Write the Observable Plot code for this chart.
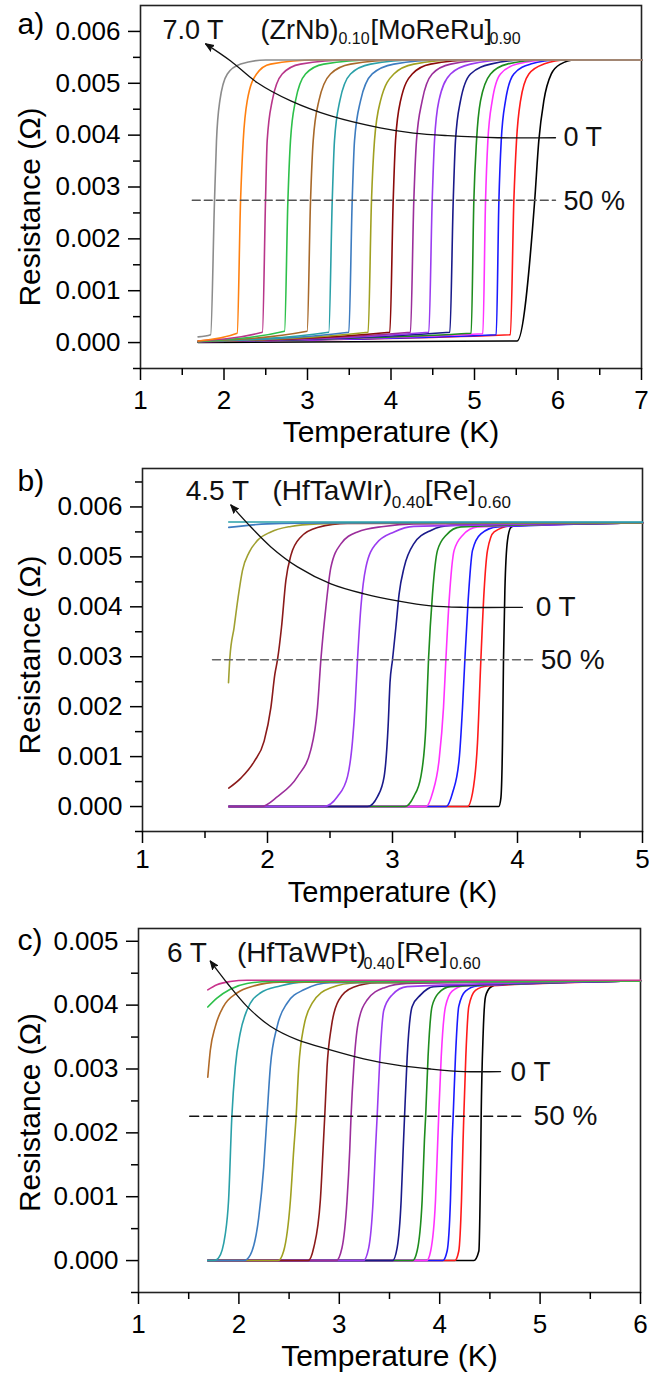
<!DOCTYPE html>
<html><head><meta charset="utf-8">
<script src="https://cdn.jsdelivr.net/npm/d3@7"></script>
<script src="https://cdn.jsdelivr.net/npm/@observablehq/plot@0.6"></script>
<style>
body{margin:0;background:#fff;width:649px;overflow:hidden;}
#chart svg{display:block;}
</style></head><body><div id="chart"></div>
<script>
// ---------- Panel a: (ZrNb)0.10[MoReRu]0.90, curves ordered 0 T -> 7.0 T ----------
const aColors = ["#000000","#FF1A1A","#1A1AFF","#FF33FF","#1E8C1E","#1A1A8A","#9A3CF0","#9B2E9B","#8B0A0A","#A0A020","#3D7CC0","#2AA0A8","#A8692A","#2DC04A","#B8368A","#FF8010","#8C8C8C"];
const aCurves = [
  [[1.69,0],[5.51,0.00003],[5.72,0.00272],[5.77,0.00389],[5.83,0.00466],[5.92,0.00518],[6.03,0.00537],[6.2,0.00545],[7.0,0.00545]],
  [[1.69,0.00002],[5.43,0.00015],[5.471,0.00272],[5.503,0.00389],[5.551,0.00466],[5.651,0.00518],[5.83,0.00537],[6.1,0.00545],[7.0,0.00545]],
  [[1.69,0.00002],[5.26,0.00015],[5.292,0.00272],[5.32,0.00389],[5.371,0.00466],[5.471,0.00518],[5.671,0.00537],[6.0,0.00545],[7.0,0.00545]],
  [[1.69,0.00002],[5.10,0.00017],[5.132,0.00272],[5.16,0.00389],[5.212,0.00466],[5.311,0.00518],[5.511,0.00537],[5.9,0.00545],[7.0,0.00545]],
  [[1.69,0.00002],[4.96,0.00018],[4.992,0.00272],[5.024,0.00389],[5.072,0.00466],[5.192,0.00518],[5.391,0.00537],[5.8,0.00545],[7.0,0.00545]],
  [[1.69,0.00002],[4.705,0.0002],[4.745,0.00272],[4.772,0.00389],[4.832,0.00466],[4.952,0.00518],[5.192,0.00537],[5.6,0.00545],[7.0,0.00545]],
  [[1.69,0.00002],[4.453,0.0002],[4.493,0.00272],[4.521,0.00389],[4.573,0.00466],[4.713,0.00518],[4.952,0.00537],[5.4,0.00545],[7.0,0.00545]],
  [[1.69,0.00002],[4.233,0.0002],[4.273,0.00272],[4.305,0.00389],[4.373,0.00466],[4.493,0.00518],[4.713,0.00537],[5.2,0.00545],[7.0,0.00545]],
  [[1.69,0.00002],[3.986,0.0002],[4.026,0.00272],[4.054,0.00389],[4.114,0.00466],[4.254,0.00518],[4.473,0.00537],[5.0,0.00545],[7.0,0.00545]],
  [[1.69,0.00002],[3.726,0.0002],[3.766,0.00272],[3.802,0.00389],[3.874,0.00466],[4.034,0.00518],[4.273,0.00537],[4.8,0.00545],[7.0,0.00545]],
  [[1.69,0.00002],[3.495,0.0002],[3.535,0.00272],[3.563,0.00389],[3.635,0.00466],[3.775,0.00518],[4.034,0.00537],[4.6,0.00545],[7.0,0.00545]],
  [[1.69,0.00002],[3.255,0.0002],[3.296,0.00272],[3.323,0.00389],[3.387,0.00466],[3.515,0.00518],[3.755,0.00537],[4.3,0.00545],[7.0,0.00545]],
  [[1.69,0.00002],[2.996,0.00022],[3.036,0.00272],[3.068,0.00389],[3.136,0.00466],[3.275,0.00518],[3.515,0.00537],[4.1,0.00545],[7.0,0.00545]],
  [[1.69,0.00002],[2.725,0.00022],[2.765,0.00272],[2.796,0.00389],[2.856,0.00466],[2.976,0.00518],[3.195,0.00537],[3.8,0.00545],[7.0,0.00545]],
  [[1.69,0.00003],[2.46,0.0002],[2.497,0.00272],[2.517,0.00389],[2.577,0.00466],[2.697,0.00518],[2.916,0.00537],[3.5,0.00545],[7.0,0.00545]],
  [[1.69,0.00003],[2.158,0.00018],[2.198,0.00272],[2.23,0.00389],[2.278,0.00466],[2.39,0.00518],[2.557,0.00537],[3.1,0.00545],[7.0,0.00545]],
  [[1.69,0.00011],[1.84,0.00015],[1.886,0.00272],[1.91,0.00389],[1.95,0.00466],[2.04,0.00518],[2.20,0.00537],[2.5,0.00545],[7.0,0.00545]]
];
const aArrowT = [5.97,5.28,4.68,4.27,3.87,3.28,2.80,2.40,2.08,1.78];
const aArrowR = [0.00395,0.00395,0.00399,0.00404,0.00414,0.00437,0.00466,0.00501,0.00543,0.00576];
const aDashT = [1.62,5.97];
const aDashR = [0.002745,0.002745];
const aLabelText = ["7.0 T","(ZrNb)","[MoReRu]","0 T","50 %"];
const aLabelT = [1.263,2.437,3.754,6.066,6.066];
const aLabelR = [0.00603,0.00603,0.00603,0.00395,0.00273];
const aSubText = ["0.10","0.90"];
const aSubT = [3.37,5.18];
const aSubR = [0.00586,0.00586];
const aXTicks = [1,2,3,4,5,6,7];
const aXMinor = [1.5,2.5,3.5,4.5,5.5,6.5];
const aYTicks = [0,0.001,0.002,0.003,0.004,0.005,0.006];
const aYMinor = [-0.0005,0.0005,0.0015,0.0025,0.0035,0.0045,0.0055];

// ---------- Panel b: (HfTaWIr)0.40[Re]0.60, curves ordered 0 T -> 4.5 T ----------
const bColors = ["#000000","#FF1A1A","#1A1AFF","#FF33FF","#1E8C1E","#1A1A8A","#9A3CF0","#9B2E9B","#8B1A1A","#A0A030","#3D7CC0","#2AA0A8"];
const bCurves = [
  [[1.69,0],[3.85,0],[3.867,0.00017],[3.88,0.00128],[3.888,0.00294],[3.899,0.00433],[3.92,0.00533],[3.947,0.00559],[4.0,0.00565],[5.0,0.00568]],
  [[1.69,0],[3.60,0],[3.64,0.00027],[3.68,0.00128],[3.707,0.00294],[3.733,0.00433],[3.76,0.00513],[3.813,0.0055],[3.947,0.00562],[5.0,0.00568]],
  [[1.69,0],[3.43,0],[3.48,0.00027],[3.533,0.00094],[3.56,0.00198],[3.579,0.00294],[3.605,0.00412],[3.64,0.00513],[3.707,0.00546],[3.84,0.0056],[5.0,0.00568]],
  [[1.69,0],[3.27,0],[3.32,0.00027],[3.373,0.00094],[3.408,0.00198],[3.427,0.00294],[3.453,0.00412],[3.493,0.00513],[3.56,0.00543],[3.68,0.0056],[5.0,0.00568]],
  [[1.69,0],[3.10,0],[3.17,0.0002],[3.227,0.0006],[3.267,0.00161],[3.288,0.00294],[3.32,0.00426],[3.36,0.00513],[3.427,0.00543],[3.547,0.0056],[5.0,0.00568]],
  [[1.69,0],[2.80,0],[2.88,0.0002],[2.933,0.0006],[2.965,0.00161],[2.98,0.00248],[3.0,0.00294],[3.027,0.00359],[3.053,0.00426],[3.093,0.00479],[3.17,0.00526],[3.307,0.00553],[3.467,0.00563],[5.0,0.00568]],
  [[1.69,0],[2.45,0],[2.56,0.0002],[2.64,0.0006],[2.68,0.00131],[2.70,0.00198],[2.72,0.00294],[2.747,0.00399],[2.787,0.00479],[2.867,0.00526],[3.013,0.0055],[3.17,0.00561],[5.0,0.00568]],
  [[1.69,0],[1.95,0],[2.08,0.0002],[2.24,0.0006],[2.347,0.00114],[2.40,0.00198],[2.427,0.00294],[2.467,0.00399],[2.507,0.00479],[2.587,0.00526],[2.72,0.0055],[2.93,0.00561],[3.17,0.00566],[5.0,0.00568]],
  [[1.69,0.00037],[1.787,0.00057],[1.893,0.0009],[1.973,0.00131],[2.027,0.00198],[2.059,0.00265],[2.08,0.00294],[2.112,0.00359],[2.147,0.00453],[2.187,0.00503],[2.267,0.0054],[2.40,0.00559],[2.64,0.00567],[5.0,0.00568]],
  [[1.688,0.00248],[1.699,0.00298],[1.733,0.00359],[1.765,0.00419],[1.80,0.00473],[1.853,0.00509],[1.92,0.00533],[2.027,0.0055],[2.187,0.00561],[2.40,0.00566],[2.77,0.00568],[5.0,0.00568]],
  [[1.69,0.00559],[2.0,0.00566],[2.5,0.00568],[5.0,0.00569]],
  [[1.69,0.0057],[5.0,0.0057]]
];
const bArrowT = [4.04,3.573,3.307,3.04,2.773,2.507,2.24,2.027,1.84,1.707];
const bArrowR = [0.00399,0.00399,0.00402,0.00412,0.00426,0.00446,0.0048,0.0052,0.00567,0.00604];
const bDashT = [1.56,4.15];
const bDashR = [0.00294,0.00294];
const bLabelText = ["4.5 T","(HfTaWIr)","[Re]","0 T","50 %"];
const bLabelT = [1.346,2.04,3.258,4.146,4.186];
const bLabelR = [0.00632,0.00632,0.00632,0.00399,0.00294];
const bSubText = ["0.40","0.60"];
const bSubT = [2.994,3.682];
const bSubR = [0.00609,0.00609];
const bXTicks = [1,2,3,4,5];
const bXMinor = [1.5,2.5,3.5,4.5];
const bYTicks = [0,0.001,0.002,0.003,0.004,0.005,0.006];
const bYMinor = [-0.0005,0.0005,0.0015,0.0025,0.0035,0.0045,0.0055,0.0065];

// ---------- Panel c: (HfTaWPt)0.40[Re]0.60, curves ordered 0 T -> 6 T ----------
const cColors = ["#000000","#FF1A1A","#1A1AFF","#FF33FF","#1E8C1E","#1A1A8A","#9A3CF0","#9B2E9B","#8B1A1A","#A0A020","#3D7CC0","#2AA0A8","#B06A28","#2DC04A","#C8338C"];
const cCurves = [
  [[1.69,0],[4.34,0],[4.39,0.00015],[4.407,0.00146],[4.413,0.00226],[4.433,0.00356],[4.457,0.00414],[4.506,0.00428],[4.606,0.00434],[6.0,0.00438]],
  [[1.69,0],[4.15,0],[4.19,0.00015],[4.217,0.00094],[4.233,0.00189],[4.24,0.00226],[4.26,0.00319],[4.29,0.00398],[4.356,0.00423],[4.473,0.0043],[6.0,0.00438]],
  [[1.69,0],[4.03,0],[4.074,0.00015],[4.107,0.00094],[4.124,0.00189],[4.134,0.00226],[4.157,0.00319],[4.19,0.00398],[4.257,0.00422],[4.373,0.0043],[6.0,0.00438]],
  [[1.69,0],[3.87,0],[3.91,0.00015],[3.958,0.00094],[3.981,0.00189],[3.99,0.00226],[4.015,0.00319],[4.058,0.00398],[4.124,0.00422],[4.24,0.0043],[6.0,0.00438]],
  [[1.69,0],[3.73,0],[3.775,0.00015],[3.825,0.00094],[3.848,0.00189],[3.86,0.00226],[3.884,0.00319],[3.924,0.00398],[3.99,0.00419],[4.107,0.00429],[6.0,0.00438]],
  [[1.69,0],[3.53,0],[3.576,0.0002],[3.616,0.00094],[3.636,0.00173],[3.65,0.00226],[3.676,0.00319],[3.726,0.00398],[3.81,0.00416],[3.94,0.00429],[6.0,0.00438]],
  [[1.69,0],[3.24,0],[3.293,0.0002],[3.337,0.00094],[3.36,0.00173],[3.377,0.00226],[3.403,0.00314],[3.443,0.00392],[3.526,0.00416],[3.676,0.00429],[6.0,0.00438]],
  [[1.69,0],[2.97,0],[3.027,0.0002],[3.077,0.00094],[3.104,0.00173],[3.117,0.00226],[3.144,0.00303],[3.187,0.00371],[3.277,0.00408],[3.443,0.00427],[3.676,0.00434],[6.0,0.00438]],
  [[1.69,0],[2.69,0],[2.745,0.0002],[2.811,0.00094],[2.838,0.00173],[2.855,0.00226],[2.878,0.00303],[2.921,0.00366],[2.995,0.00408],[3.14,0.00428],[3.38,0.00435],[6.0,0.00438]],
  [[1.69,0],[2.39,0],[2.446,0.00015],[2.513,0.00094],[2.546,0.00173],[2.57,0.00226],[2.596,0.00303],[2.646,0.00366],[2.73,0.00403],[2.91,0.00427],[3.18,0.00435],[6.0,0.00438]],
  [[1.69,0],[2.05,0],[2.114,0.00009],[2.197,0.00067],[2.247,0.00146],[2.28,0.00226],[2.313,0.00303],[2.38,0.00366],[2.48,0.00403],[2.646,0.00424],[2.91,0.00435],[6.0,0.00438]],
  [[1.69,0],[1.75,0],[1.797,0.00004],[1.864,0.00041],[1.897,0.00094],[1.93,0.00226],[1.964,0.00303],[2.013,0.00356],[2.08,0.00392],[2.213,0.00419],[2.41,0.0043],[2.65,0.00436],[6.0,0.00438]],
  [[1.69,0.00287],[1.715,0.00329],[1.764,0.00366],[1.847,0.00398],[1.98,0.00419],[2.146,0.0043],[2.41,0.00436],[6.0,0.00438]],
  [[1.69,0.00397],[1.781,0.00411],[1.914,0.00425],[2.08,0.00434],[2.31,0.00437],[6.0,0.00438]],
  [[1.69,0.00424],[1.781,0.00432],[1.914,0.00437],[2.08,0.00439],[6.0,0.00439]]
];
const cArrowT = [4.606,4.24,3.908,3.576,3.243,2.91,2.579,2.313,2.08,1.881,1.715];
const cArrowR = [0.00296,0.00296,0.003,0.00306,0.00316,0.0033,0.00346,0.00367,0.00398,0.00435,0.00469];
const cDashT = [1.51,4.855];
const cDashR = [0.00226,0.00226];
const cLabelText = ["6 T","(HfTaWPt)","[Re]","0 T","50 %"];
const cLabelT = [1.283,1.981,3.569,4.706,4.935];
const cLabelR = [0.00481,0.00481,0.00481,0.00296,0.00226];
const cSubText = ["0.40","0.60"];
const cSubT = [3.24,4.097];
const cSubR = [0.00465,0.00465];
const cXTicks = [1,2,3,4,5,6];
const cXMinor = [1.5,2.5,3.5,4.5,5.5];
const cYTicks = [0,0.001,0.002,0.003,0.004,0.005];
const cYMinor = [-0.0005,0.0005,0.0015,0.0025,0.0035,0.0045];

const xTitle = "Temperature (K)";
const yTitle = "Resistance (Ω)";

// filled arrowhead marker (falls back to Plot's built-in "arrow")
function filledArrow(color) {
  const ns = "http://www.w3.org/2000/svg";
  const m = document.createElementNS(ns, "marker");
  m.setAttribute("viewBox", "-10 -5 11 10");
  m.setAttribute("markerWidth", "7");
  m.setAttribute("markerHeight", "7");
  m.setAttribute("refX", "0");
  m.setAttribute("refY", "0");
  m.setAttribute("orient", "auto");
  const path = document.createElementNS(ns, "path");
  path.setAttribute("d", "M-10,-4L0,0L-10,4L-7.5,0Z");
  path.setAttribute("fill", color);
  m.appendChild(path);
  return m;
}

function panel(p, marker) {
  const idx = (arr) => arr.map((_, i) => i);
  const marks = [
    Plot.frame({stroke: "#222", strokeWidth: 1.6}),
    ...p.curves.map((pts, i) => Plot.line(pts, {x: d => d[0], y: d => d[1], stroke: p.colors[i], strokeWidth: 1.6, curve: "monotone-x"})),
    Plot.line(idx(p.dashT), {x: i => p.dashT[i], y: i => p.dashR[i], stroke: p.dashColor, strokeWidth: 1.4, strokeDasharray: p.dashArray}),
    Plot.line(idx(p.arrowT), {x: i => p.arrowT[i], y: i => p.arrowR[i], stroke: "#111", strokeWidth: 1.3, curve: "catmull-rom", markerEnd: marker}),
    Plot.text(idx(p.labelText), {x: i => p.labelT[i], y: i => p.labelR[i], text: i => p.labelText[i], fontSize: p.labelSize, textAnchor: "start", lineAnchor: "middle", fill: "#111"}),
    Plot.text(idx(p.subText), {x: i => p.subT[i], y: i => p.subR[i], text: i => p.subText[i], fontSize: p.subSize, textAnchor: "start", lineAnchor: "middle", fill: "#111"}),
    Plot.axisY({ticks: p.yTicks, anchor: "left", tickSize: 12, tickPadding: 8, tickFormat: d3.format(".3f"), fontSize: 26, strokeWidth: 1.5, label: null}),
    Plot.axisY({ticks: p.yMinor, anchor: "left", tickSize: 7, tickFormat: () => "", strokeWidth: 1.5, label: null}),
    Plot.axisX({ticks: p.xTicks, anchor: "bottom", tickSize: 12, tickPadding: p.xPad, tickFormat: d3.format("d"), fontSize: 26, strokeWidth: 1.5, label: null}),
    Plot.axisX({ticks: p.xMinor, anchor: "bottom", tickSize: 7, tickFormat: () => "", strokeWidth: 1.5, label: null}),
    Plot.text([xTitle], {frameAnchor: "bottom", dy: p.xTitleDy, fontSize: p.xTitleSize, textAnchor: "middle", lineAnchor: "middle"}),
    Plot.text([yTitle], {frameAnchor: "left", rotate: -90, dx: p.yTitleDx, dy: p.yTitleDy, fontSize: 30, textAnchor: "middle", lineAnchor: "middle"}),
    Plot.text([p.letter], {frameAnchor: "top-left", dx: p.letterDx, dy: p.letterDy, fontSize: 30, textAnchor: "start", lineAnchor: "middle"})
  ];
  return Plot.plot({
    width: 649, height: p.height,
    marginLeft: p.ml, marginRight: p.mr, marginTop: p.mt, marginBottom: p.mb,
    x: {domain: p.xDomain},
    y: {domain: p.yDomain},
    style: {fontFamily: "'Liberation Sans', Arial, sans-serif", fontSize: "26px", color: "#000", background: "#fff", overflow: "visible"},
    marks
  });
}

function build(p) {
  try { return panel(p, filledArrow); }
  catch (e) { return panel(p, "arrow"); }
}

const chart = document.getElementById("chart");
chart.append(build({
  curves: aCurves, colors: aColors, arrowT: aArrowT, arrowR: aArrowR, dashT: aDashT, dashR: aDashR,
  dashColor: "#555", dashArray: "8,4",
  labelText: aLabelText, labelT: aLabelT, labelR: aLabelR, subText: aSubText, subT: aSubT, subR: aSubR,
  labelSize: 27, subSize: 16,
  xTicks: aXTicks, xMinor: aXMinor, yTicks: aYTicks, yMinor: aYMinor,
  xDomain: [1, 7], yDomain: [-0.0005, 0.0065],
  height: 450, ml: 140, mr: 8, mt: 5, mb: 82, xPad: 10, xTitleDy: 64, xTitleSize: 30,
  yTitleDx: -110, yTitleDy: 20, letter: "a)", letterDx: -123, letterDy: 19
}));
chart.append(build({
  curves: bCurves, colors: bColors, arrowT: bArrowT, arrowR: bArrowR, dashT: bDashT, dashR: bDashR,
  dashColor: "#666", dashArray: "8,4",
  labelText: bLabelText, labelT: bLabelT, labelR: bLabelR, subText: bSubText, subT: bSubT, subR: bSubR,
  labelSize: 28, subSize: 17,
  xTicks: bXTicks, xMinor: bXMinor, yTicks: bYTicks, yMinor: bYMinor,
  xDomain: [1, 5], yDomain: [-0.0005, 0.00677],
  height: 460, ml: 142, mr: 7, mt: 18, mb: 79, xPad: 6, xTitleDy: 61, xTitleSize: 29,
  yTitleDx: -112, yTitleDy: 5, letter: "b)", letterDx: -125, letterDy: 13
}));
chart.append(build({
  curves: cCurves, colors: cColors, arrowT: cArrowT, arrowR: cArrowR, dashT: cDashT, dashR: cDashR,
  dashColor: "#111", dashArray: "9,5",
  labelText: cLabelText, labelT: cLabelT, labelR: cLabelR, subText: cSubText, subT: cSubT, subR: cSubR,
  labelSize: 28, subSize: 16,
  xTicks: cXTicks, xMinor: cXMinor, yTicks: cYTicks, yMinor: cYMinor,
  xDomain: [1, 6], yDomain: [-0.0005, 0.0052],
  height: 468, ml: 138, mr: 9, mt: 18, mb: 86, xPad: 10, xTitleDy: 64, xTitleSize: 30,
  yTitleDx: -108, yTitleDy: 2, letter: "c)", letterDx: -121, letterDy: 12
}));
</script>
</body></html>
